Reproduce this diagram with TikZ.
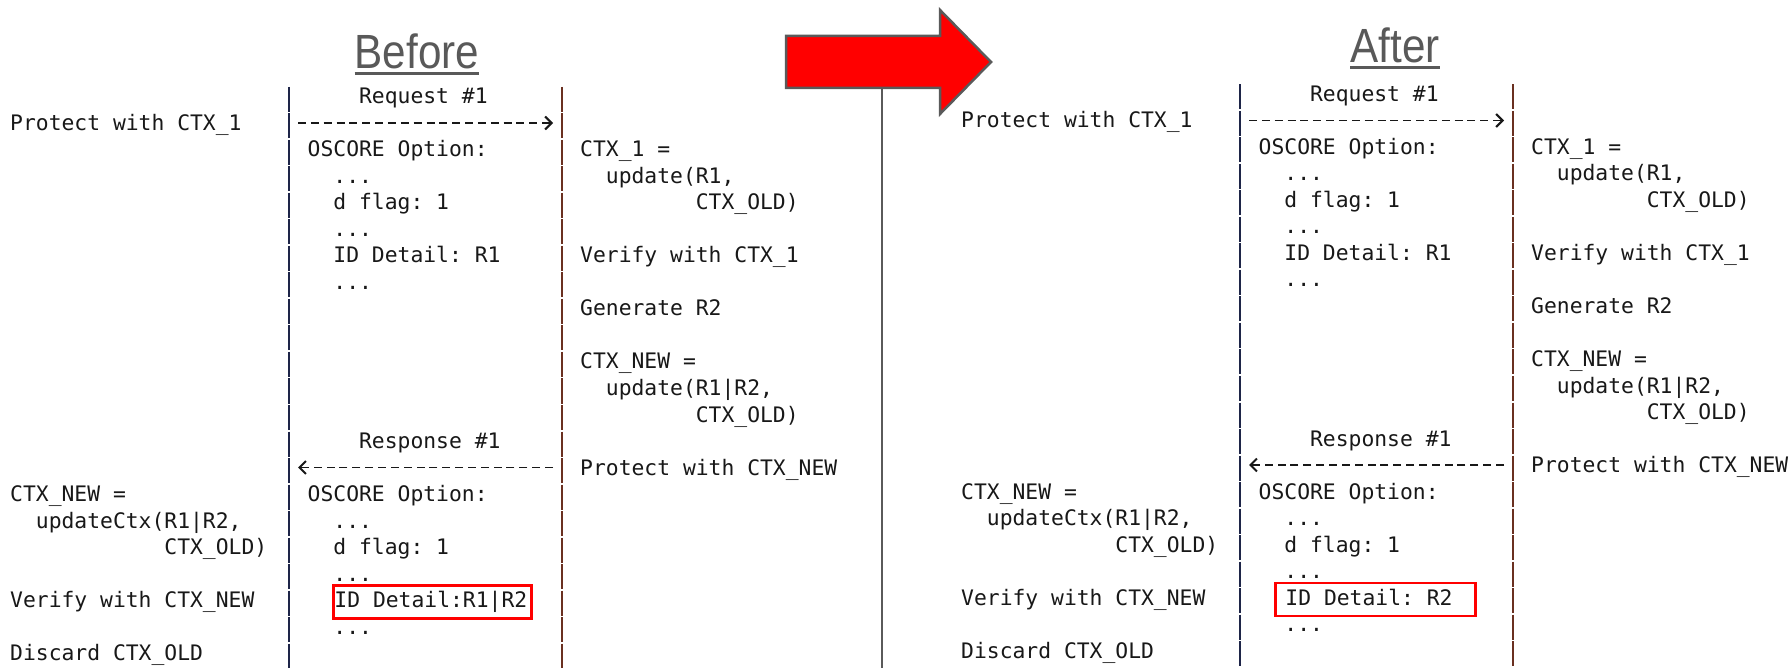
\documentclass[tikz,border=0pt]{standalone}
\usepackage{fontspec}
\setmainfont{Liberation Sans}
\newfontfamily\codefont{DejaVu Sans Mono}
\usetikzlibrary{arrows.meta}

\definecolor{ink}{HTML}{181818}
\definecolor{titlegray}{HTML}{595959}
\definecolor{barL}{HTML}{1E2548}
\definecolor{barR}{HTML}{6A3020}
\definecolor{hilite}{HTML}{FF0000}
\definecolor{framegray}{HTML}{5A5A5A}

% grid of the monospaced listing (1pt = one pixel)
\def\cw{12.85}   % character advance
\def\rp{26.5}    % row pitch
\def\ry{104}     % baseline of row 0
\def\xl{10}      % left column
\def\xm{307.5}   % message column
\def\xr{580}     % right column
\def\bl{289}     % client lifeline
\def\br{562}     % server lifeline
\newcommand\Y[1]{\ry+\rp*#1}

\tikzset{
  code/.style={anchor=base west, inner sep=0pt, text=ink,
    font=\codefont\fontsize{21.35}{26.5}\selectfont\frenchspacing},
  lifeL/.style={draw=barL, line width=2.6pt, dash pattern=on 25pt off 1.5pt},
  lifeR/.style={draw=barR, line width=2.6pt, dash pattern=on 25pt off 1.5pt},
  msg/.style={draw=ink, line width=1.8pt, dash pattern=on 8pt off 4.85pt,
    shorten <=9pt, shorten >=9pt,
    -{Straight Barb[length=6.5pt,width=13pt,line width=2pt]}},
  idbox/.style={code, draw=hilite, line width=2.5pt, text height=19pt,
    text depth=8pt, inner ysep=3pt},
  title/.style={anchor=base, inner sep=0pt, text=titlegray,
    font=\fontsize{48}{48}\selectfont},
  titleline/.style={draw=titlegray, line width=2.5pt},
}

% one message-sequence listing: #1 name prefix, #2 highlighted detail,
% #3 width of the highlight box text area, #4 left inset of the highlight box
\newcommand\seqpanel[4]{%
  \coordinate (#1-Ltop) at (\bl,{\ry-17});
  \coordinate (#1-Lbot) at (\bl,668);
  \coordinate (#1-Rtop) at (\br,{\ry-17});
  \coordinate (#1-Rbot) at (\br,668);
  \draw[lifeL] (#1-Ltop) -- (#1-Lbot);
  \draw[lifeR] (#1-Rtop) -- (#1-Rbot);
  % client side
  \node[code] (#1-prot1) at (\xl,{\Y{1}}) {Protect with CTX\_1};
  \node[code] (#1-newA) at (\xl,{\Y{15}}) {CTX\_NEW =};
  \node[code] (#1-newB) at ({\xl+2*\cw},{\Y{16}}) {updateCtx(R1|R2,};
  \node[code] (#1-newC) at ({\xl+12*\cw},{\Y{17}}) {CTX\_OLD)};
  \node[code] (#1-vnew) at (\xl,{\Y{19}}) {Verify with CTX\_NEW};
  \node[code] (#1-disc) at (\xl,{\Y{21}}) {Discard CTX\_OLD};
  % request
  \node[code] (#1-req) at ({\xm+4*\cw},{\Y{0}}) {Request \#1};
  \node[code] (#1-optA) at (\xm,{\Y{2}}) {OSCORE Option:};
  \node[code] (#1-dotA1) at ({\xm+2*\cw},{\Y{3}}) {...};
  \node[code] (#1-flagA) at ({\xm+2*\cw},{\Y{4}}) {d flag: 1};
  \node[code] (#1-dotA2) at ({\xm+2*\cw},{\Y{5}}) {...};
  \node[code] (#1-idA) at ({\xm+2*\cw},{\Y{6}}) {ID Detail: R1};
  \node[code] (#1-dotA3) at ({\xm+2*\cw},{\Y{7}}) {...};
  % response
  \node[code] (#1-resp) at ({\xm+4*\cw},{\Y{13}}) {Response \#1};
  \node[code] (#1-optB) at (\xm,{\Y{15}}) {OSCORE Option:};
  \node[code] (#1-dotB1) at ({\xm+2*\cw},{\Y{16}}) {...};
  \node[code] (#1-flagB) at ({\xm+2*\cw},{\Y{17}}) {d flag: 1};
  \node[code] (#1-dotB2) at ({\xm+2*\cw},{\Y{18}}) {...};
  \node[idbox, inner xsep=#4pt] (#1-idB) at ({\xm+2*\cw-#4},{\Y{19}})
    {\makebox[#3pt][l]{#2}};
  \node[code] (#1-dotB3) at ({\xm+2*\cw},{\Y{20}}) {...};
  % server side
  \node[code] (#1-c1A) at (\xr,{\Y{2}}) {CTX\_1 =};
  \node[code] (#1-c1B) at ({\xr+2*\cw},{\Y{3}}) {update(R1,};
  \node[code] (#1-c1C) at ({\xr+9*\cw},{\Y{4}}) {CTX\_OLD)};
  \node[code] (#1-ver1) at (\xr,{\Y{6}}) {Verify with CTX\_1};
  \node[code] (#1-gen) at (\xr,{\Y{8}}) {Generate R2};
  \node[code] (#1-cnA) at (\xr,{\Y{10}}) {CTX\_NEW =};
  \node[code] (#1-cnB) at ({\xr+2*\cw},{\Y{11}}) {update(R1|R2,};
  \node[code] (#1-cnC) at ({\xr+9*\cw},{\Y{12}}) {CTX\_OLD)};
  \node[code] (#1-protN) at (\xr,{\Y{14}}) {Protect with CTX\_NEW};
  % messages between the lifelines
  \coordinate (#1-a1) at (\bl,{\Y{1}-7.5});
  \coordinate (#1-b1) at (\br,{\Y{1}-7.5});
  \coordinate (#1-a14) at (\bl,{\Y{14}-7.5});
  \coordinate (#1-b14) at (\br,{\Y{14}-7.5});
  \draw[msg] (#1-a1) -- (#1-b1);
  \draw[msg] (#1-b14) -- (#1-a14);
}

\begin{document}
\begin{tikzpicture}[x=1pt,y=-1pt]
\useasboundingbox (0,0) rectangle (1792,668);
\fill[white] (0,0) rectangle (1792,668);

% headings
\node[title] (tBefore) at (417,69) {\scalebox{0.88}[1]{Before}};
\draw[titleline] ([yshift=-4.5pt]tBefore.base west) -- ([yshift=-4.5pt]tBefore.base east);
\node[title] (tAfter) at (1395,63) {\scalebox{0.88}[1]{After}};
\draw[titleline] ([yshift=-4.5pt]tAfter.base west) -- ([yshift=-4.5pt]tAfter.base east);

% transition arrow and divider
\draw[draw=framegray, line width=2.5pt, fill=red, line join=miter]
  (786,36) -- (940,36) -- (940,10) -- (991,62) -- (940,114) -- (940,88)
  -- (786,88) -- cycle;
\coordinate (divTop) at (882,88);
\coordinate (divBot) at (882,668);
\draw[draw=framegray, line width=2pt] (divTop) -- (divBot);

% listings
\seqpanel{bef}{ID Detail:R1|R2}{196}{1}
\begin{scope}[shift={(951,-2.5)}]
  \seqpanel{aft}{ID Detail: R2}{179.6}{10.2}
\end{scope}
\end{tikzpicture}
\end{document}
